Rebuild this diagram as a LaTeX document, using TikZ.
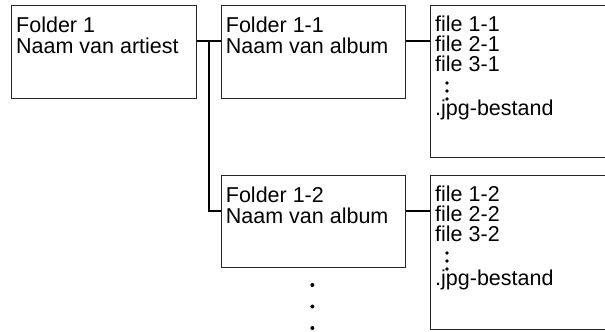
\documentclass[tikz,border=0pt]{standalone}
\usepackage{fontspec}
\setmainfont{Liberation Sans}
\begin{document}
\begin{tikzpicture}[x=1bp,y=-1bp,
  box/.style={draw=black!85, line width=1bp, rectangle, inner sep=0pt, anchor=north west},
  lbl/.style={anchor=base west, inner sep=0pt, align=left, font=\fontsize{21.5bp}{21bp}\selectfont},
  flbl/.style={anchor=base west, inner sep=0pt, align=left, font=\fontsize{21.5bp}{20bp}\selectfont},
  conn/.style={draw=black, line width=2bp},
  dotmark/.style={fill=black, draw=none}]
\useasboundingbox (0,0) rectangle (605,331);
% boxes
\node[box, minimum width=185bp, minimum height=93bp] (f1) at (11,5) {};
\node[box, minimum width=184.3bp, minimum height=93bp] (a1) at (220.7,5) {};
\node[box, minimum width=184.3bp, minimum height=92bp] (a2) at (220.7,175) {};
\node[box, minimum width=190bp, minimum height=152bp] (fb1) at (430,5) {};
\node[box, minimum width=190bp, minimum height=154bp] (fb2) at (430,175) {};
% texts (base anchor = baseline of the last line)
\node[lbl] (t1) at ([xshift=5bp,yshift=-48bp]f1.north west) {Folder 1\\Naam van artiest};
\node[lbl] (t2) at ([xshift=5bp,yshift=-48bp]a1.north west) {Folder 1-1\\Naam van album};
\node[lbl] (t3) at ([xshift=5bp,yshift=-48bp]a2.north west) {Folder 1-2\\Naam van album};
\node[flbl] (t4) at ([xshift=5bp,yshift=-110.5bp]fb1.north west) {file 1-1\\file 2-1\\file 3-1\\[24.5bp].jpg-bestand};
\node[flbl] (t5) at ([xshift=5bp,yshift=-110.5bp]fb2.north west) {file 1-2\\file 2-2\\file 3-2\\[24.5bp].jpg-bestand};
% ellipsis dots in file boxes
\foreach \b in {fb1,fb2}{
  \foreach \d in {78,86,94}{
    \fill[dotmark] ([xshift=17bp,yshift=-\d bp]\b.north west) circle (1.8bp);
  }
}
% dots below Folder 1-2
\foreach \d in {17,38.5,60}{
  \fill[dotmark] ([xshift=-1bp,yshift=-\d bp]a2.south) circle (2bp);
}
% connectors
\coordinate (j) at (209,41);
\draw[conn] ([yshift=-36bp]f1.north east) -- ([yshift=-36bp]a1.north west);
\draw[conn] (j) |- ([yshift=-36bp]a2.north west);
\draw[conn] ([yshift=-36bp]a1.north east) -- ([yshift=-36bp]fb1.north west);
\draw[conn] ([yshift=-36bp]a2.north east) -- ([yshift=-36bp]fb2.north west);
\end{tikzpicture}
\end{document}
